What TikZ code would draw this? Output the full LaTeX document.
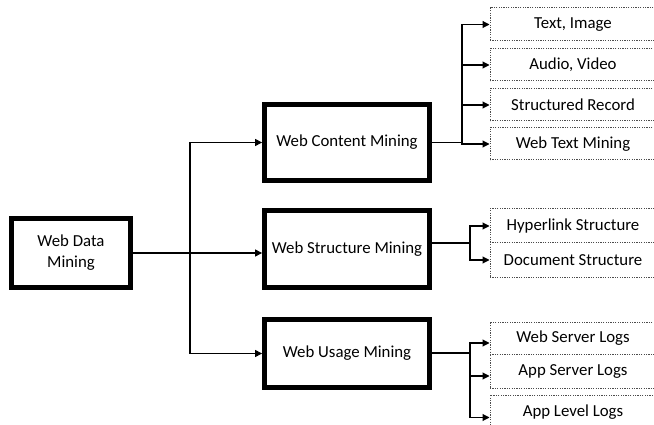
\documentclass[tikz,border=0pt]{standalone}
\usepackage{fontspec}
\setmainfont{Carlito}
\usetikzlibrary{arrows.meta}
\begin{document}
\begin{tikzpicture}[x=1pt,y=-1pt,line cap=round,
  font=\fontsize{16.8}{21}\selectfont,
  >={Triangle[length=7pt,width=7pt]},
  mainbox/.style={draw,line width=4.8pt,minimum width=165,minimum height=76,inner sep=0pt},
  leafbox/.style={draw=black!70,line cap=butt,dash pattern=on 1.2pt off 1.2pt,line width=1pt,minimum width=166,minimum height=32,inner sep=0pt},
  link/.style={line width=1.1pt}]
        \clip (0,0) rectangle (654,425);
        % root and the three branches
        \node[mainbox,minimum width=119,minimum height=69,align=center] (wdm) at (71,253) {Web Data\\Mining};
        \node[mainbox] (wcm) at (347,142.5) {Web Content Mining};
        \node[mainbox,minimum height=77] (wsm) at (347,249) {Web Structure Mining};
        \node[mainbox,minimum height=68] (wum) at (347,353.5) {Web Usage Mining};
        % leaves
        \node[leafbox,minimum height=33] (ti) at (573,24.5) {Text, Image};
        \node[leafbox] (av) at (573,65) {Audio, Video};
        \node[leafbox] (sr) at (573,105) {Structured Record};
        \node[leafbox] (wtm) at (573,144) {Web Text Mining};
        \node[leafbox,minimum height=34] (hs) at (573,226) {Hyperlink Structure};
        \node[leafbox,minimum height=34] (ds) at (573,260) {Document Structure};
        \node[leafbox] (wsl) at (573,338) {Web Server Logs};
        \node[leafbox,minimum height=34] (asl) at (573,371) {App Server Logs};
        \node[leafbox,minimum height=35] (all) at (573,412.5) {App Level Logs};
        % connectors
        \coordinate (trunk) at (190,253);
        \draw[link,->] (wdm.east) -- (wdm.east -| wsm.west);
        \draw[link,->] (trunk) |- (wcm.west);
        \draw[link,->] (trunk) |- (wum.west);
        \coordinate (cfork) at (462,142.5);
        \draw[link] (wcm.east) -- (cfork);
        \foreach \leaf in {ti,av,sr,wtm}
          \draw[link,->] (cfork) |- (\leaf.west);
        \coordinate (sfork) at (470,243);
        \draw[link] (wsm.east |- sfork) -- (sfork);
        \foreach \leaf in {hs,ds}
          \draw[link,->] (sfork) |- (\leaf.west);
        \coordinate (ufork) at (470,353);
        \draw[link] (wum.east |- ufork) -- (ufork);
        \foreach \leaf in {wsl,asl,all}
          \draw[link,->] (ufork) |- ([yshift=-5]\leaf.west);
\end{tikzpicture}
\end{document}
